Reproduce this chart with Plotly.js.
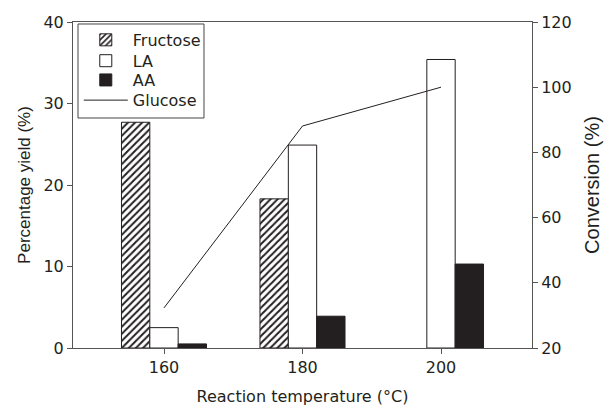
<!DOCTYPE html>
<html>
<head>
<meta charset="utf-8">
<script src="https://cdn.plot.ly/plotly-3.0.1.min.js"></script>
<style>html,body{margin:0;padding:0;background:#fff;}#chart{width:606px;height:406px;}</style>
</head>
<body>
<div id="chart"></div>
<script>
var temperatures = [160, 180, 200];
var fructose = [27.7, 18.3, null];
var la = [2.5, 24.9, 35.4];
var aa = [0.5, 3.9, 10.3];
var glucoseConversion = [32.3, 88.1, 100];
var yieldTicks = [0, 10, 20, 30, 40];
var conversionTicks = [20, 40, 60, 80, 100, 120];
var seriesNames = ['Fructose', 'LA', 'AA', 'Glucose'];

var ink = '#231f20';
var wideFont = {family: 'DejaVu Sans, sans-serif', size: 16, color: ink};
var leftTitleFont = {family: 'Liberation Sans, Arial, sans-serif', size: 17, color: ink};
var rightTitleFont = {family: 'Liberation Sans, Arial, sans-serif', size: 20, color: ink};
var outline = {color: ink, width: 1};

var traces = [
  {type: 'bar', name: seriesNames[0], x: temperatures, y: fructose, legend: 'legend',
   marker: {color: '#ffffff', line: outline,
            pattern: {shape: '/', fgcolor: ink, bgcolor: '#ffffff', size: 5, solidity: 0.4}}},
  {type: 'bar', name: seriesNames[1], x: temperatures, y: la, legend: 'legend2',
   marker: {color: '#ffffff', line: outline}},
  {type: 'bar', name: seriesNames[2], x: temperatures, y: aa, legend: 'legend3',
   marker: {color: ink, line: outline}},
  {type: 'scatter', mode: 'lines', name: seriesNames[3], x: temperatures, y: glucoseConversion,
   yaxis: 'y2', legend: 'legend4', line: {color: ink, width: 1}}
];

var axisCommon = {showline: true, linecolor: '#555', linewidth: 1, ticks: 'outside',
  ticklen: 5, tickcolor: '#555', showgrid: false, zeroline: false, tickfont: wideFont};

// legend item centres (paper fractions) for a compact stacked legend
var legendRows = [0.945, 0.881, 0.822, 0.760];
function legendAt(yc) {
  return {x: 0.0126, y: yc, xanchor: 'left', yanchor: 'middle', bgcolor: 'rgba(0,0,0,0)',
    borderwidth: 0, font: wideFont, itemwidth: 44};
}

var layout = {
  width: 606, height: 406,
  margin: {l: 73, r: 74, t: 22, b: 58},
  paper_bgcolor: '#fff', plot_bgcolor: '#fff',
  font: wideFont,
  barmode: 'group', bargap: 0.386, bargroupgap: 0,
  showlegend: true,
  legend: legendAt(legendRows[0]),
  legend2: legendAt(legendRows[1]),
  legend3: legendAt(legendRows[2]),
  legend4: legendAt(legendRows[3]),
  shapes: [{type: 'rect', xref: 'paper', yref: 'paper', x0: 0.0109, x1: 0.2854,
    y0: 0.7055, y1: 0.9939, fillcolor: '#ffffff', line: {color: '#444', width: 1}, layer: 'below'}],
  xaxis: Object.assign({}, axisCommon, {range: [146.86, 213.14], tickvals: temperatures,
    ticktext: temperatures.map(String), mirror: true,
    title: {text: 'Reaction temperature (°C)', font: wideFont, standoff: 18}}),
  yaxis: Object.assign({}, axisCommon, {range: [0, 40], tickvals: yieldTicks,
    title: {text: 'Percentage yield (%)', font: leftTitleFont, standoff: 8}}),
  yaxis2: Object.assign({}, axisCommon, {range: [20, 120], tickvals: conversionTicks,
    overlaying: 'y', side: 'right',
    title: {text: 'Conversion (%)', font: rightTitleFont, standoff: 14}})
};

Plotly.newPlot('chart', traces, layout, {displayModeBar: false, staticPlot: true});
</script>
</body>
</html>
